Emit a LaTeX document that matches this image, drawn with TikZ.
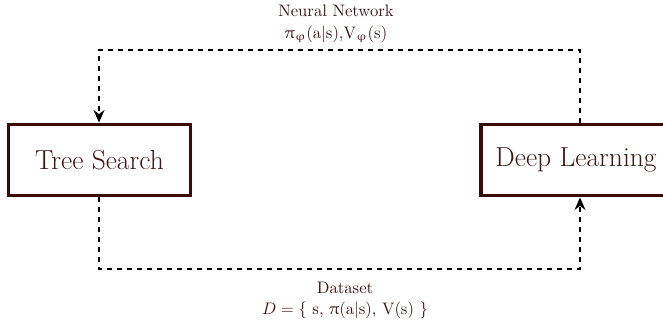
\documentclass[tikz,border=0pt]{standalone}
\usepackage{upgreek}
\usetikzlibrary{arrows.meta}
\definecolor{txt}{RGB}{62,22,22}
\definecolor{boxc}{RGB}{58,10,10}
\tikzset{
  blockbox/.style={draw=boxc, line width=1.9pt, minimum width=109pt, minimum height=43pt, inner sep=0pt, text=txt, font=\fontsize{16.5}{20}\selectfont},
  flow/.style={dashed, line width=1.2pt, black},
  tip/.style={-{Stealth[length=7.5pt,width=6.5pt]}},
  lbl/.style={text=txt, align=center, font=\fontsize{10}{13}\selectfont, inner sep=0pt}
}
\begin{document}
\begin{tikzpicture}[x=0.6pt,y=-0.6pt]
\useasboundingbox (0,0) rectangle (663,333);
\clip (0,0) rectangle (663,333);
\node[blockbox] (ts) at (99.5,160) {Tree Search};
\node[blockbox, minimum width=114pt] (dl) at (576,160) {Deep Learning};
\coordinate (tl) at (99,50);
\coordinate (tr) at (580,50);
\coordinate (bl) at (99,269);
\coordinate (br) at (580,269);
\draw[flow,tip] (tr |- dl.north) -- (tr) -- (tl) -- (tl |- ts.north);
\draw[flow,tip] (bl |- ts.south) -- (bl) -- (br) -- (br |- dl.south);
\node[lbl] (nn) at (336,23.5) {Neural Network\\$\uppi_{\upvarphi}$(a|s),V$_{\upvarphi}$(s)};
\node[lbl] (ds) at (345,300.5) {Dataset\\$D=\{$ s, $\uppi$(a|s), V(s) $\}$};
\end{tikzpicture}
\end{document}
